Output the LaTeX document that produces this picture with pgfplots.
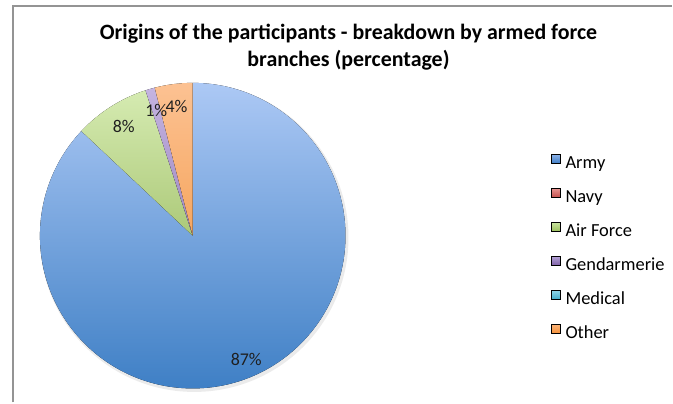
\documentclass[border=0pt]{standalone}
\usepackage{fontspec}
\setmainfont{Carlito}
\usepackage{pgfplots}
\usepackage{pgfplotstable}
\pgfplotsset{compat=1.18}

% pie colours (top / bottom of the pie-wide gradient)
\definecolor{top0}{HTML}{ADC9F5}\definecolor{bot0}{HTML}{3E7FC5}
\definecolor{top1}{HTML}{E8A3A1}\definecolor{bot1}{HTML}{B8403D}
\definecolor{top2}{HTML}{D8EDB5}\definecolor{bot2}{HTML}{80A53C}
\definecolor{top3}{HTML}{C6B6E2}\definecolor{bot3}{HTML}{7558A0}
\definecolor{top4}{HTML}{A5DDEC}\definecolor{bot4}{HTML}{3BA3C0}
\definecolor{top5}{HTML}{FCC293}\definecolor{bot5}{HTML}{F08A2C}
% legend squares
\definecolor{ltop0}{HTML}{8DB3EA}\definecolor{lbot0}{HTML}{3F7DC6}
\definecolor{ltop1}{HTML}{E89593}\definecolor{lbot1}{HTML}{C4504C}
\definecolor{ltop2}{HTML}{C9E3A0}\definecolor{lbot2}{HTML}{9BBF5C}
\definecolor{ltop3}{HTML}{B4A2D6}\definecolor{lbot3}{HTML}{7F62A8}
\definecolor{ltop4}{HTML}{93D6E8}\definecolor{lbot4}{HTML}{45AECB}
\definecolor{ltop5}{HTML}{FBB47A}\definecolor{lbot5}{HTML}{F5923C}

\pgfplotstableread[col sep=comma]{
name,value,lr
Army,87,135
Navy,0,130
Air Force,8,129
Gendarmerie,1,131
Medical,0,130
Other,4,130
}\piedata

% cumulative angles (start at 12 o'clock, clockwise)
\def\piecum{0}
\pgfplotsforeachungrouped \i in {0,...,5}{%
  \pgfplotstablegetelem{\i}{value}\of\piedata \let\pieval\pgfplotsretval
  \pgfplotstablegetelem{\i}{lr}\of\piedata \let\pielr\pgfplotsretval
  \pgfplotstablegetelem{\i}{name}\of\piedata
  \expandafter\xdef\csname nm\i\endcsname{\pgfplotsretval}%
  \pgfmathsetmacro\piesa{90-3.6*\piecum}%
  \pgfmathsetmacro\pieea{90-3.6*(\piecum+\pieval)}%
  \pgfmathsetmacro\piema{90-3.6*(\piecum+\pieval/2)}%
  \pgfmathsetmacro\pielx{193+\pielr*cos(\piema)}%
  \pgfmathsetmacro\piely{167+\pielr*sin(\piema)}%
  \expandafter\xdef\csname val\i\endcsname{\pieval}%
  \expandafter\xdef\csname sa\i\endcsname{\piesa}%
  \expandafter\xdef\csname ea\i\endcsname{\pieea}%
  \expandafter\xdef\csname lx\i\endcsname{\pielx}%
  \expandafter\xdef\csname ly\i\endcsname{\piely}%
  \pgfmathsetmacro\piecum{\piecum+\pieval}%
}

\begin{document}
\begin{tikzpicture}
\begin{axis}[
  width=673bp, height=403bp, scale only axis,
  xmin=0, xmax=673, ymin=0, ymax=403,
  hide axis, clip=false,
  title={Origins of the participants - breakdown by armed force\\branches (percentage)},
  title style={at={(0.5186,0.9265)}, anchor=north, inner sep=0pt, align=center,
    font=\fontsize{22}{27}\selectfont\bfseries},
  legend style={at={(0.8202,0.6170)}, anchor=north west, draw=none, fill=none,
    inner sep=0pt, outer sep=0pt, row sep=15.8bp, column sep=5bp,
    font=\fontsize{18.5}{20}\selectfont,
    nodes={inner sep=0pt, text height=14bp, text depth=4bp},
    cells={anchor=base west}},
]
% full picture area
\path (axis cs:0,0) rectangle (axis cs:673,403);
% chart frame
\draw[color=black!42, line width=2bp] (axis cs:13,0) -- (axis cs:13,397) -- (axis cs:673,397);
% soft shadow
\pgfplotsextra{\fill[black, opacity=0.08] (axis cs:194.5,165) circle[radius=154.5bp];}
% slices
\pgfplotsinvokeforeach{0,...,5}{%
  \ifdim\csname val#1\endcsname pt>0pt
  \pgfplotsextra{%
    \begin{scope}
      \clip (axis cs:193,167) -- ++(\csname sa#1\endcsname:153bp)
        arc[start angle=\csname sa#1\endcsname, end angle=\csname ea#1\endcsname, radius=153bp] -- cycle;
      \fill[top color=top#1, bottom color=bot#1] (axis cs:38,12) rectangle (axis cs:348,322);
    \end{scope}
  }%
  \fi
  \addlegendimage{legend image code/.code={\fill[top color=ltop#1, bottom color=lbot#1] (0bp,5bp) rectangle (9bp,14bp);}}
  \addlegendentry{\csname nm#1\endcsname}
}
% data labels on top of all slices
\pgfplotsinvokeforeach{0,...,5}{%
  \ifdim\csname val#1\endcsname pt>0pt
  \pgfplotsextra{%
    \node[font=\fontsize{18}{20}\selectfont, text=black!88] at (axis cs:\csname lx#1\endcsname,\csname ly#1\endcsname) {\csname val#1\endcsname\%};
  }%
  \fi
}
\end{axis}
\end{tikzpicture}
\end{document}
